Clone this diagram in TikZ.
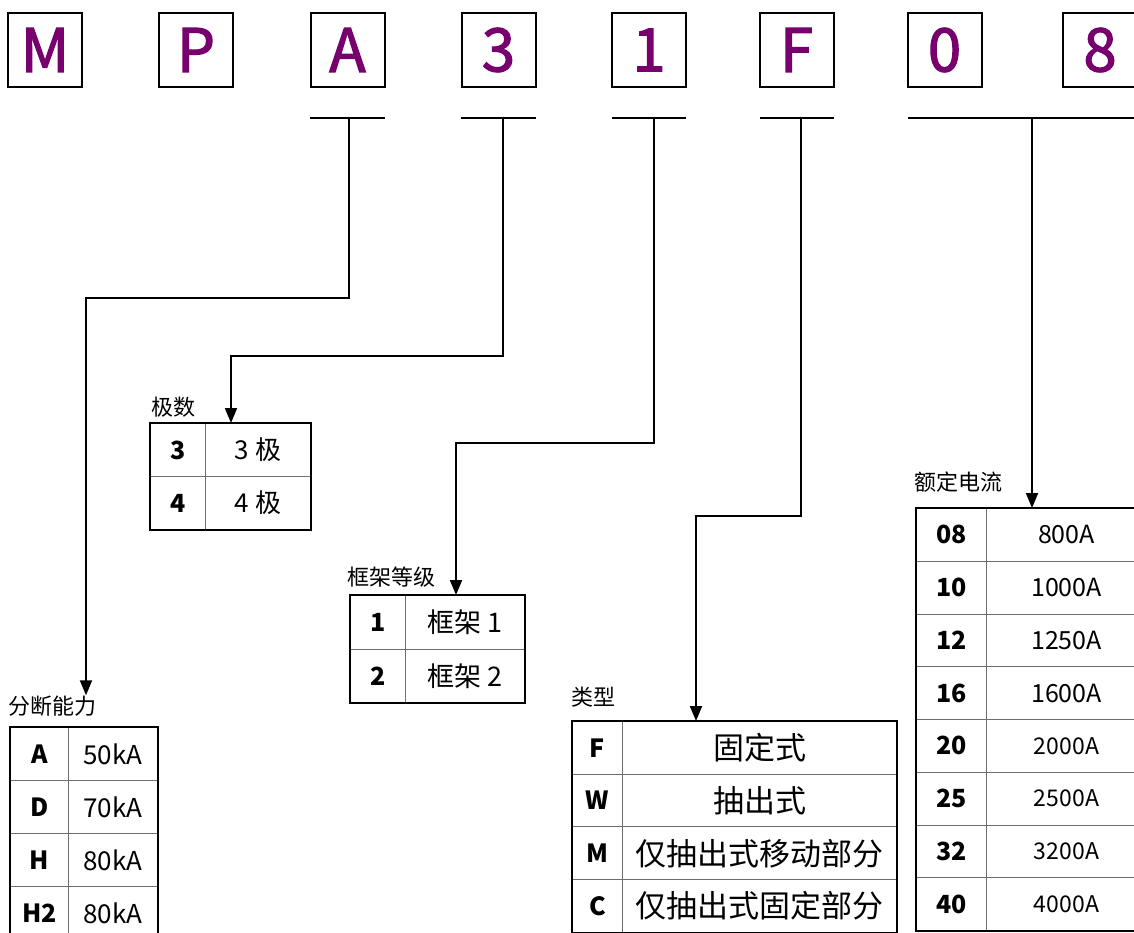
\documentclass[tikz,border=0pt]{standalone}
\usepackage{fontspec}
\setmainfont{Noto Sans CJK SC}
\newfontfamily\topfont[FakeBold=2]{Noto Sans CJK SC}
\usetikzlibrary{arrows.meta}
\definecolor{mpurple}{RGB}{120,0,110}
\definecolor{gridgray}{RGB}{110,110,110}
\begin{document}
\begin{tikzpicture}[x=1pt,y=-1pt,
  letterbox/.style={draw,line width=2pt,minimum width=74pt,minimum height=74pt,inner sep=0pt,
    font=\topfont\fontsize{60}{60}\selectfont,text=mpurple},
  uline/.style={line width=2pt},
  arr/.style={line width=2pt,-{Triangle[length=15pt,width=12pt]}},
  cell/.style={draw=gridgray,line width=1pt,inner sep=0pt,anchor=north west},
  key/.style={font=\fontsize{25}{25}\selectfont\bfseries},
  outer/.style={line width=2pt},
  lab/.style={font=\fontsize{22}{22}\selectfont,inner sep=0pt,anchor=base west}
]
\useasboundingbox (0,0) rectangle (1134,932);
\clip (0,0) rectangle (1134,932);
\fill[white] (0,0) rectangle (1134,932);

% top letter boxes
\foreach \n/\lt/\x in {bM/M/45, bP/P/196, bA/A/347.5, b3/3/498.5, b1/1/649, bF/F/796.5, b0/0/944.5, b8/8/1100}
  \node[letterbox] (\n) at (\x,50) {\lt};

% underlines
\coordinate (uAl) at (310,118); \coordinate (uAr) at (385,118);
\coordinate (u3l) at (461,118); \coordinate (u3r) at (536,118);
\coordinate (u1l) at (612,118); \coordinate (u1r) at (686,118);
\coordinate (uFl) at (760,118); \coordinate (uFr) at (834,118);
\coordinate (u8l) at (908,118); \coordinate (u8r) at (1140,118);
\draw[uline] (uAl) -- (uAr);
\draw[uline] (u3l) -- (u3r);
\draw[uline] (u1l) -- (u1r);
\draw[uline] (uFl) -- (uFr);
\draw[uline] (u8l) -- (u8r);

% connector starts and bends
\coordinate (sA) at (349,118); \coordinate (kA) at (86,298);
\coordinate (s3) at (503,118); \coordinate (k3) at (231,356);
\coordinate (s1) at (654,118); \coordinate (k1) at (456,443);
\coordinate (sF) at (801,118); \coordinate (kF) at (696,516);
\coordinate (s8) at (1032,118);

% ---- 分断能力 table
\node[lab] (labA) at (8,714) {分断能力};
\foreach \k/\v [count=\i from 0] in {A/50kA,D/70kA,H/80kA,H2/80kA}{
  \node[cell,key,minimum width=58pt,minimum height=53pt] (ak\i) at (10,{727+53*\i}) {\k};
  \node[cell,font=\fontsize{26}{26}\selectfont,minimum width=89pt,minimum height=53pt] (av\i) at (68,{727+53*\i}) {\v};
}
\draw[outer] (ak0.north west) rectangle (av3.south east);

% ---- 极数 table
\node[lab] (lab3) at (151,415) {极数};
\foreach \k/\v [count=\i from 0] in {3/3 极,4/4 极}{
  \node[cell,key,minimum width=55pt,minimum height=53pt] (tk\i) at (150,{423+53*\i}) {\k};
  \node[cell,font=\fontsize{26}{26}\selectfont,minimum width=105pt,minimum height=53pt] (tv\i) at (205,{423+53*\i}) {\v};
}
\draw[outer] (tk0.north west) rectangle (tv1.south east);

% ---- 框架等级 table
\node[lab] (lab1) at (347,585) {框架等级};
\foreach \k/\v [count=\i from 0] in {1/框架 1,2/框架 2}{
  \node[cell,key,minimum width=55pt,minimum height=53.5pt] (fk\i) at (350,{595+53.5*\i}) {\k};
  \node[cell,font=\fontsize{27}{27}\selectfont,minimum width=119pt,minimum height=53.5pt] (fv\i) at (405,{595+53.5*\i}) {\v};
}
\draw[outer] (fk0.north west) rectangle (fv1.south east);

% ---- 类型 table
\node[lab] (labF) at (571,705) {类型};
\foreach \k/\v [count=\i from 0] in {F/固定式,W/抽出式,M/仅抽出式移动部分,C/仅抽出式固定部分}{
  \node[cell,key,minimum width=50pt,minimum height=52.7pt] (yk\i) at (572,{721+52.7*\i}) {\k};
  \node[cell,font=\fontsize{31}{31}\selectfont,minimum width=274pt,minimum height=52.7pt] (yv\i) at (622,{721+52.7*\i}) {\v};
}
\draw[outer] (yk0.north west) rectangle (yv3.south east);

% ---- 额定电流 table
\node[lab] (lab8) at (914,490) {额定电流};
\foreach \k/\v/\fs [count=\i from 0] in {08/800A/25,10/1000A/25,12/1250A/25,16/1600A/25,20/2000A/23,25/2500A/23,32/3200A/23,40/4000A/23}{
  \node[cell,key,minimum width=70pt,minimum height=52.75pt] (ek\i) at (916,{508+52.75*\i}) {\k};
  \node[cell,font=\fontsize{\fs}{\fs}\selectfont,minimum width=160pt,minimum height=52.75pt] (ev\i) at (986,{508+52.75*\i}) {\v};
}
\draw[outer] (ek0.north west) rectangle (ev7.south east);

% ---- connectors
\draw[arr] (sA) |- (kA) -- (kA |- labA.north);
\draw[arr] (s3) |- (k3) -- (k3 |- tk0.north);
\draw[arr] (s1) |- (k1) -- (k1 |- fk0.north);
\draw[arr] (sF) |- (kF) -- (kF |- yk0.north);
\draw[arr] (s8) -- (s8 |- ek0.north);
\end{tikzpicture}
\end{document}
